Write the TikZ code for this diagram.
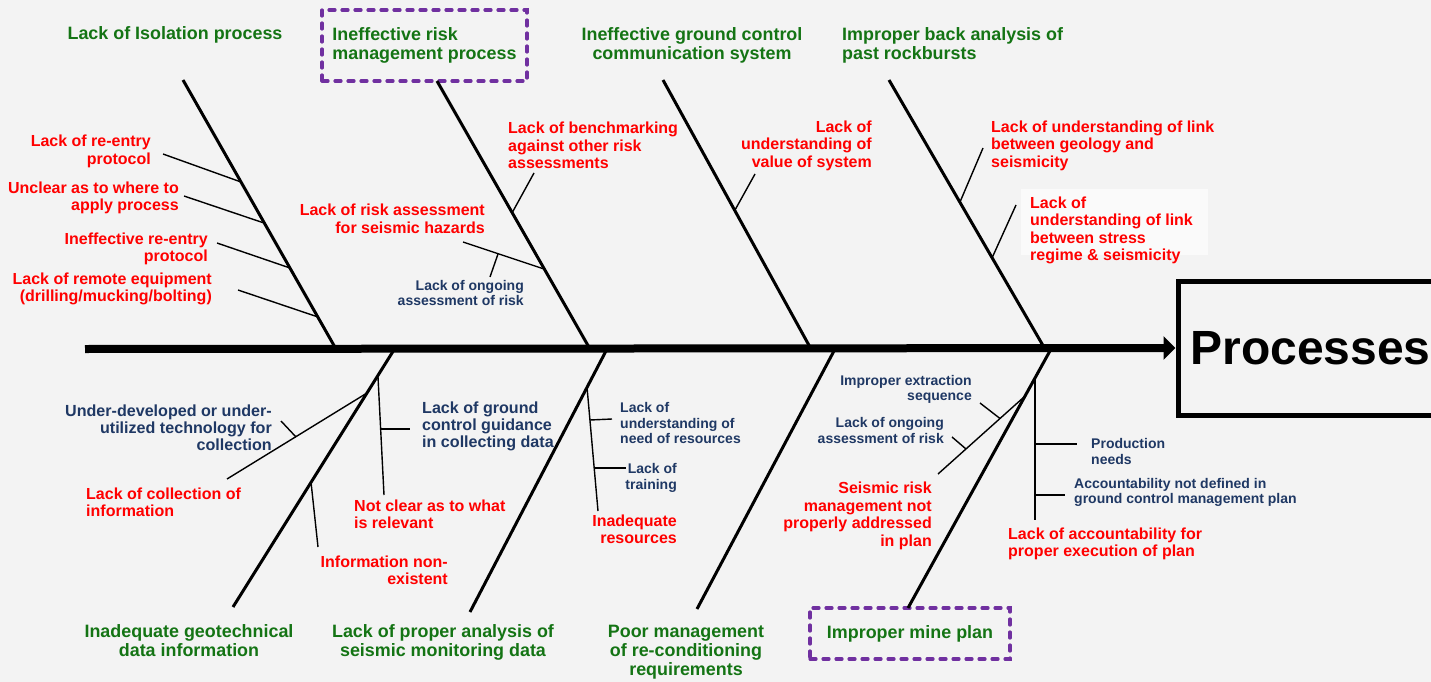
\documentclass[tikz,border=0pt]{standalone}
\usepackage{fontspec}
\setmainfont{Liberation Sans}
\usepackage{xcolor}
\usepackage{tikz}
\usetikzlibrary{arrows,arrows.meta,shapes,positioning}

\definecolor{bg}{RGB}{243,243,243}
\definecolor{fishgreen}{RGB}{20,116,20}
\definecolor{fishred}{RGB}{255,0,0}
\definecolor{fishblue}{RGB}{31,56,100}
\definecolor{fishpurple}{RGB}{112,48,160}

\tikzset{
  cause/.style={text=fishgreen, font=\bfseries\fontsize{17.9}{19}\selectfont, inner sep=0pt},
  redtxt/.style={text=fishred, font=\bfseries\fontsize{16}{17.5}\selectfont, inner sep=0pt},
  bluetxt/.style={text=fishblue, font=\bfseries\fontsize{16.1}{17}\selectfont, inner sep=0pt},
  smallblue/.style={text=fishblue, font=\bfseries\fontsize{14}{15.5}\selectfont, inner sep=0pt},
  keybox/.style={draw=fishpurple, line width=3.2pt, dash pattern=on 6pt off 7pt, line cap=round},
  bone/.style={line width=3pt},
  rib/.style={line width=1.4pt},
}

\begin{document}
\begin{tikzpicture}[x=1pt, y=-1pt]
	\useasboundingbox (0,0) rectangle (1431,682);
	\fill[bg] (0,0) rectangle (1431,682);

	% effect box
	\node[draw, line width=5pt, minimum width=265pt, minimum height=134pt,
	      font=\bfseries\fontsize{48}{50}\selectfont] (proc) at (1310.5,348) {Processes};

	% main causes, top row
	\node[cause] (isol) at (175,35) {Lack of Isolation process};
	\node[cause, keybox, align=left, minimum width=205pt, minimum height=71pt] (riskmgmt) at (424.5,45.5) {Ineffective risk\\management process};
	\node[cause, align=center] (gcomm) at (692,45.5) {Ineffective ground control\\communication system};
	\node[cause, align=left, anchor=west] (backan) at (842,45.5) {Improper back analysis of\\past rockbursts};

	% main causes, bottom row
	\node[cause, align=center] (geotech) at (189,640.5) {Inadequate geotechnical\\data information};
	\node[cause, align=center] (seismon) at (443,642) {Lack of proper analysis of\\seismic monitoring data};
	\node[cause, align=center] (recond) at (686,652.5) {Poor management\\of re-conditioning\\requirements};
	\node[cause, keybox, minimum width=200pt, minimum height=51pt] (mineplan) at (910,633.5) {Improper mine plan};

	% bones
	\coordinate (isolA) at (183,80);    \coordinate (isolB) at (336,349);
	\coordinate (riskA) at (437,81);    \coordinate (riskB) at (590,349);
	\coordinate (gcomA) at (663,80);    \coordinate (gcomB) at (811,349);
	\coordinate (backA) at (889,80);    \coordinate (backB) at (1045,349);
	\coordinate (geotA) at (233,607);   \coordinate (geotB) at (394.5,349);
	\coordinate (seisA) at (470,612);   \coordinate (seisB) at (607,349);
	\coordinate (recoA) at (697,609);   \coordinate (recoB) at (835,349);
	\coordinate (planA) at (908,608);   \coordinate (planB) at (1051,349);
	\foreach \b in {isol,risk,gcom,back,geot,seis,reco,plan}
		\draw[bone] (\b A) -- (\b B);

	% spine
	\coordinate (tail) at (85,349);
	\draw[line width=8pt, -{Triangle[length=12pt,width=23pt]}] (tail) -- (proc.west);

	% Lack of Isolation process
	\node[redtxt, align=right, anchor=east] (reentry) at (151,151.5) {Lack of re-entry\\protocol};
	\node[redtxt, align=right, anchor=east] (unclear) at (179,198) {Unclear as to where to\\apply process};
	\node[redtxt, align=right, anchor=east] (ineffre) at (208,249) {Ineffective re-entry\\protocol};
	\node[redtxt, align=right, anchor=east] (remote) at (212,289) {Lack of remote equipment\\(drilling/mucking/bolting)};
	\coordinate (r1a) at (163,154); \coordinate (r1b) at (241,182);
	\coordinate (r2a) at (184,196); \coordinate (r2b) at (264,223);
	\coordinate (r3a) at (217,243); \coordinate (r3b) at (290,268);
	\coordinate (r4a) at (238,290); \coordinate (r4b) at (318,317);
	\foreach \r in {r1,r2,r3,r4}
		\draw[rib] (\r a) -- (\r b);

	% Ineffective risk management process
	\node[redtxt, align=left, anchor=west] (bench) at (508,145.5) {Lack of benchmarking\\against other risk\\assessments};
	\node[redtxt, align=right, anchor=east] (riskass) at (485,219) {Lack of risk assessment\\for seismic hazards};
	\node[smallblue, align=right, anchor=east] (ongoing) at (524,293) {Lack of ongoing\\assessment of risk};
	\coordinate (benchA) at (534,173); \coordinate (benchB) at (512,213);
	\coordinate (rassA) at (463,242);  \coordinate (rassB) at (544,269);
	\coordinate (ongA) at (490,277);   \coordinate (ongB) at (498,254);
	\draw[rib] (benchA) -- (benchB);
	\draw[rib] (rassA) -- (rassB);
	\draw[rib] (ongA) -- (ongB);

	% Ineffective ground control communication system
	\node[redtxt, align=right, anchor=east] (value) at (872,145.5) {Lack of\\understanding of\\value of system};
	\coordinate (valA) at (755,174); \coordinate (valB) at (735,210);
	\draw[rib] (valA) -- (valB);

	% Improper back analysis of past rockbursts
	\node[redtxt, align=left, anchor=west] (geol) at (991,145.5) {Lack of understanding of link\\between geology and\\seismicity};
	\fill[white!60!bg] (1021,189) rectangle (1208,255);
	\node[redtxt, align=left, anchor=west] (stress) at (1030,230.5) {Lack of\\understanding of link\\between stress\\regime \& seismicity};
	\coordinate (geolA) at (983,148);  \coordinate (geolB) at (960,202);
	\coordinate (strA) at (1016,205);  \coordinate (strB) at (992,258);
	\draw[rib] (geolA) -- (geolB);
	\draw[rib] (strA) -- (strB);

	% Inadequate geotechnical data information
	\node[redtxt, align=left, anchor=west] (collect) at (86,502.5) {Lack of collection of\\information};
	\node[bluetxt, align=right, anchor=east] (tech) at (272,428) {Under-developed or under-\\utilized technology for\\collection};
	\node[redtxt, align=left, anchor=west] (relev) at (354,514.5) {Not clear as to what\\is relevant};
	\node[bluetxt, align=left, anchor=west] (guide) at (422,426.5) {Lack of ground\\control guidance\\in collecting data};
	\node[redtxt, align=right, anchor=east] (nonex) at (448,570.5) {Information non-\\existent};
	\coordinate (colA) at (367,393);  \coordinate (colB) at (227,479);
	\coordinate (techA) at (296,437); \coordinate (techB) at (281,421);
	\coordinate (relA) at (378,377);  \coordinate (relB) at (384,495);
	\coordinate (guiA) at (381,429);  \coordinate (guiB) at (410,429);
	\coordinate (nonA) at (311,482);  \coordinate (nonB) at (318,547);
	\foreach \r in {col,tech,rel,gui,non}
		\draw[rib] (\r A) -- (\r B);

	% Lack of proper analysis of seismic monitoring data
	\node[redtxt, align=right, anchor=east] (inres) at (677,529.5) {Inadequate\\resources};
	\node[smallblue, align=left, anchor=west] (needres) at (620,423) {Lack of\\understanding of\\need of resources};
	\node[smallblue, align=right, anchor=east] (train) at (677,478) {Lack of\\training};
	\coordinate (inrA) at (587,387);  \coordinate (inrB) at (598,511);
	\coordinate (needA) at (590,420); \coordinate (needB) at (612,419);
	\coordinate (traA) at (594,468);  \coordinate (traB) at (626,468);
	\foreach \r in {inr,need,tra}
		\draw[rib] (\r A) -- (\r B);

	% Improper mine plan
	\node[redtxt, align=right, anchor=east] (srisk) at (932,516) {Seismic risk\\management not\\properly addressed\\in plan};
	\node[smallblue, align=right, anchor=east] (extr) at (972,389.5) {Improper extraction\\sequence};
	\node[smallblue, align=right, anchor=east] (ongo2) at (944,430.5) {Lack of ongoing\\assessment of risk};
	\node[redtxt, align=left, anchor=west] (accnt) at (1008,544) {Lack of accountability for\\proper execution of plan};
	\node[smallblue, align=left, anchor=west] (prod) at (1091,451.5) {Production\\needs};
	\node[smallblue, align=left, anchor=west] (gcmp) at (1074,492.5) {Accountability not defined in\\ground control management plan};
	\coordinate (srA) at (1024,397);  \coordinate (srB) at (938,474);
	\coordinate (exA) at (1000,418.5); \coordinate (exB) at (980,403);
	\coordinate (onA) at (966,449);   \coordinate (onB) at (952,437);
	\coordinate (acA) at (1035,378);  \coordinate (acB) at (1035,520);
	\coordinate (prA) at (1035,444);  \coordinate (prB) at (1077,444);
	\coordinate (gcA) at (1035,495);  \coordinate (gcB) at (1065,495);
	\foreach \r in {sr,ex,on,ac,pr,gc}
		\draw[rib] (\r A) -- (\r B);
\end{tikzpicture}
\end{document}
